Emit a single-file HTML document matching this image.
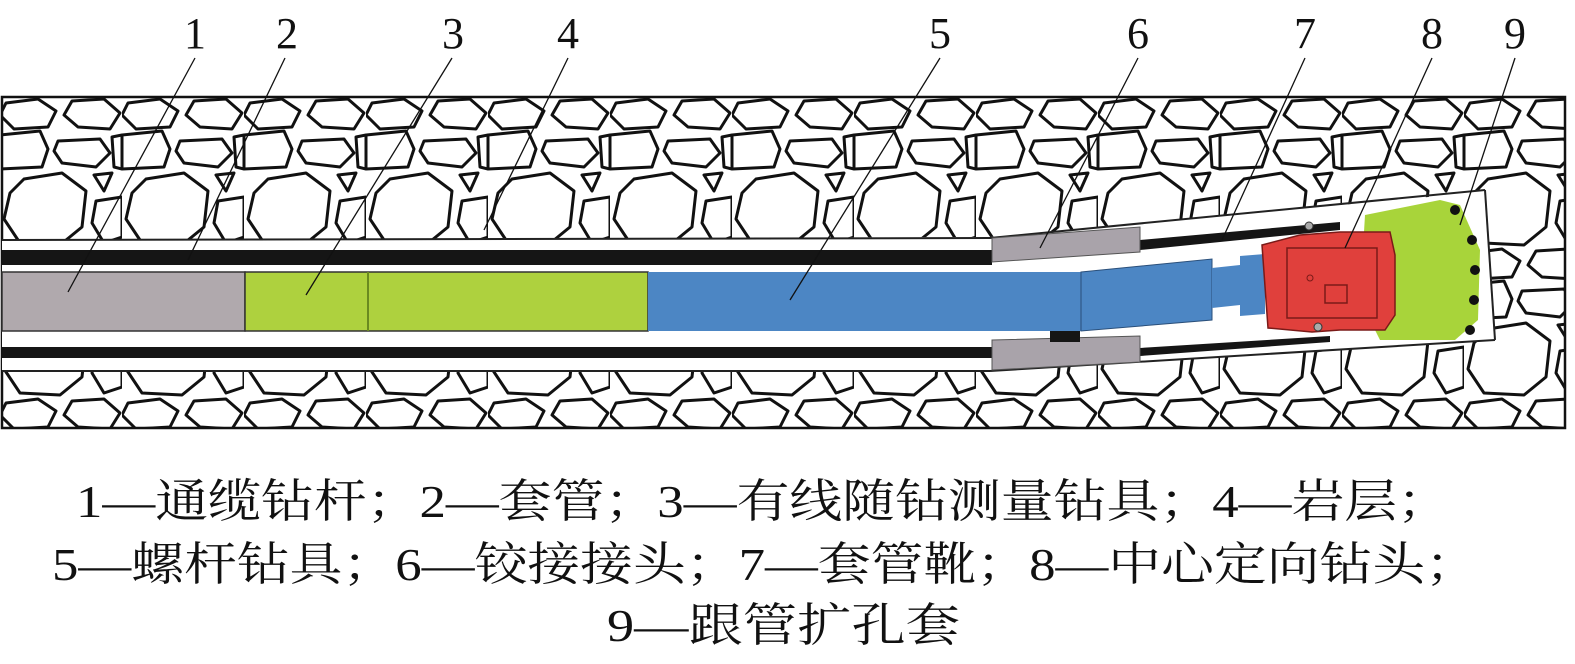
<!DOCTYPE html>
<html><head><meta charset="utf-8"><style>html,body{margin:0;padding:0;background:#fff}svg{display:block}</style></head>
<body>
<svg width="1575" height="664" viewBox="0 0 1575 664" xmlns="http://www.w3.org/2000/svg">
<defs>
<pattern id="rock" patternUnits="userSpaceOnUse" width="122" height="150" x="0" y="97">
<g fill="#fff" stroke="#111" stroke-width="3" stroke-linejoin="round">
<polygon points="6,6 38,2 56,14 48,30 14,32 0,18"/>
<polygon points="72,4 104,2 120,16 110,32 78,30 64,18"/>
<polygon points="58,44 100,42 110,56 96,70 62,66 54,54"/>
<polygon points="0,38 40,34 48,52 42,70 0,72"/>
<polygon points="112,40 122,38 122,72 114,70"/>
<polygon points="24,82 62,76 86,94 82,130 60,148 20,146 4,122 10,96"/>
<polygon points="94,78 112,76 104,94"/>
<polygon points="96,104 122,100 122,140 104,146 92,126"/>
</g>
</pattern>
</defs>
<rect x="2" y="97" width="1563" height="331" fill="url(#rock)" stroke="#111" stroke-width="2.5"/>
<polygon points="2,240 990,237 1450,195 1485,190 1495,340 990,372 2,372" fill="#fff"/>
<line x1="2" y1="240" x2="990" y2="238" stroke="#222" stroke-width="2"/>
<line x1="990" y1="238" x2="1485" y2="190" stroke="#222" stroke-width="2"/>
<line x1="2" y1="371" x2="990" y2="371" stroke="#222" stroke-width="2"/>
<line x1="990" y1="371" x2="1495" y2="340" stroke="#222" stroke-width="2"/>
<line x1="1485" y1="190" x2="1495" y2="340" stroke="#222" stroke-width="2"/>
<rect x="2" y="250" width="990" height="15" fill="#151515"/>
<rect x="2" y="347" width="990" height="11" fill="#151515"/>
<polygon points="1140,240 1340,222 1340,230 1140,250" fill="#151515"/>
<polygon points="1140,348 1330,336 1330,342 1140,356" fill="#151515"/>
<polygon points="992,238 1140,227 1140,252 992,262" fill="#a9a3aa" stroke="#555" stroke-width="1"/>
<polygon points="992,340 1140,336 1140,362 992,370" fill="#a9a3aa" stroke="#555" stroke-width="1"/>
<rect x="1050" y="330" width="30" height="12" fill="#151515"/>
<rect x="2" y="272" width="243" height="59" fill="#b0a9ad" stroke="#333" stroke-width="1.5"/>
<rect x="245" y="272" width="403" height="59" fill="#aed13e" stroke="#333" stroke-width="1.5"/>
<line x1="368" y1="272" x2="368" y2="331" stroke="#6a8a20" stroke-width="2"/>
<rect x="648" y="272" width="434" height="59" fill="#4c86c4"/>
<polygon points="1081,272 1212,259 1212,320 1081,331" fill="#4c86c4" stroke="#2a4f7a" stroke-width="1"/>
<polygon points="1212,268 1240,265 1240,305 1212,308" fill="#4c86c4"/>
<polygon points="1240,256 1265,254 1265,314 1240,316" fill="#4c86c4"/>
<polygon points="1365,215 1440,200 1460,205 1480,250 1478,320 1455,340 1380,340 1360,300" fill="#a8d43a"/>
<g fill="#111"><circle cx="1455" cy="210" r="5"/><circle cx="1472" cy="240" r="5"/><circle cx="1475" cy="270" r="5"/><circle cx="1474" cy="300" r="5"/><circle cx="1470" cy="330" r="5"/></g>
<polygon points="1262,245 1300,235 1340,232 1390,232 1395,255 1395,315 1385,330 1340,330 1312,332 1268,328" fill="#e0403c" stroke="#7a1a18" stroke-width="1.5"/>
<rect x="1287" y="248" width="90" height="70" fill="none" stroke="#7a1a18" stroke-width="1.5"/>
<rect x="1325" y="285" width="22" height="18" fill="none" stroke="#7a1a18" stroke-width="1.5"/>
<circle cx="1310" cy="278" r="3" fill="none" stroke="#7a1a18"/>
<circle cx="1309" cy="226" r="4" fill="#aaa" stroke="#333"/><circle cx="1318" cy="327" r="4" fill="#aaa" stroke="#333"/>
<g stroke="#111" stroke-width="1.3">
<line x1="195" y1="58" x2="68" y2="292"/>
<line x1="285" y1="58" x2="188" y2="260"/>
<line x1="452" y1="58" x2="306" y2="295"/>
<line x1="568" y1="58" x2="484" y2="230"/>
<line x1="940" y1="58" x2="790" y2="300"/>
<line x1="1138" y1="58" x2="1040" y2="248"/>
<line x1="1305" y1="58" x2="1222" y2="240"/>
<line x1="1432" y1="58" x2="1345" y2="248"/>
<line x1="1515" y1="58" x2="1460" y2="225"/>
</g>
<g font-family="Liberation Serif, serif" font-size="44" fill="#111" text-anchor="middle">
<text x="195" y="48">1</text><text x="287" y="48">2</text><text x="453" y="48">3</text><text x="568" y="48">4</text><text x="940" y="48">5</text><text x="1138" y="48">6</text><text x="1305" y="48">7</text><text x="1432" y="48">8</text><text x="1515" y="48">9</text>
</g>
<g font-family="Liberation Serif, 'Noto Serif CJK SC', serif" font-size="46" fill="#111">
<text x="76" y="517" textLength="1374" lengthAdjust="spacingAndGlyphs">1—通缆钻杆；2—套管；3—有线随钻测量钻具；4—岩层；</text>
<text x="52" y="580" textLength="1426" lengthAdjust="spacingAndGlyphs">5—螺杆钻具；6—铰接接头；7—套管靴；8—中心定向钻头；</text>
<text x="607" y="641" textLength="353" lengthAdjust="spacingAndGlyphs">9—跟管扩孔套</text>
</g>
</svg>
</body></html>
